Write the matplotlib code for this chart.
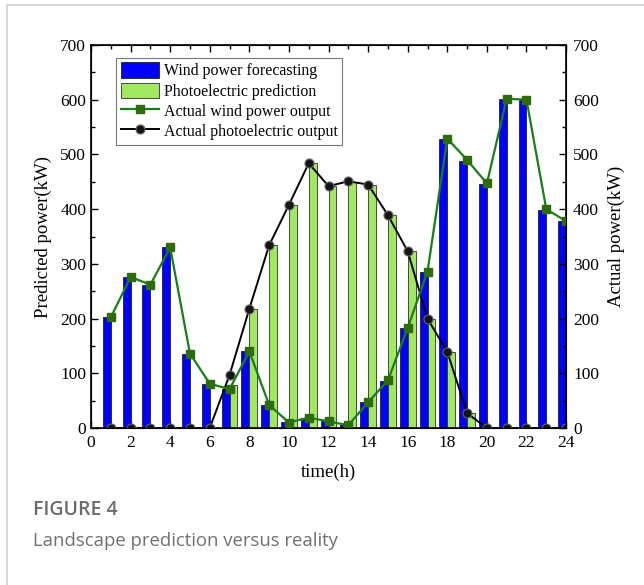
import numpy as np
import matplotlib.pyplot as plt
from matplotlib.lines import Line2D
from matplotlib.ticker import MultipleLocator

plt.rcParams['font.family'] = ['Liberation Serif', 'DejaVu Serif']

hours = np.arange(1, 25)
wind_forecast = [202, 276, 262, 330, 136, 81, 71, 140, 42, 11, 19, 13,
                 6, 47, 85, 183, 285, 529, 488, 446, 602, 600, 399, 378]
wind_actual = [202, 276, 262, 330, 136, 81, 71, 140, 42, 10, 19, 12,
               5, 47, 87, 183, 286, 529, 490, 447, 602, 600, 400, 378]
pv_forecast = [0, 0, 0, 0, 0, 0, 78, 218, 334, 408, 484, 442,
               450, 444, 389, 323, 200, 139, 27, 0, 0, 0, 0, 0]
pv_actual = [0, 0, 0, 0, 0, 0, 97, 218, 334, 408, 484, 442,
             451, 445, 389, 323, 200, 139, 27, 0, 0, 0, 0, 0]

fig = plt.figure(figsize=(6.44, 5.85), dpi=100)
ax = fig.add_axes([0.1413, 0.2684, 0.7377, 0.6546])

w = 0.4
b1 = ax.bar(hours, wind_forecast, width=-w, align='edge', color='#0000ff',
            edgecolor='#202020', linewidth=0.6, label='Wind power forecasting', zorder=2)
b2 = ax.bar(hours, pv_forecast, width=w, align='edge', color='#a0e860',
            edgecolor='#303030', linewidth=0.6, label='Photoelectric prediction', zorder=2)
l1, = ax.plot(hours, wind_actual, color='#168016', lw=1.6, marker='s', ms=6,
              mfc='#2e6b0a', mec='#2e6b0a', label='Actual wind power output', zorder=4)
l2, = ax.plot(hours, pv_actual, color='black', lw=1.4, marker='o', ms=6.5,
              mfc='#151515', mec='#666666', mew=0.8, label='Actual photoelectric output', zorder=3)

ax.set_xlim(0, 24)
ax.set_ylim(0, 700)
ax.xaxis.set_major_locator(MultipleLocator(2))
ax.xaxis.set_minor_locator(MultipleLocator(1))
ax.yaxis.set_major_locator(MultipleLocator(100))
ax.yaxis.set_minor_locator(MultipleLocator(50))
ax.tick_params(which='both', direction='in', top=True, labelsize=12.5)
ax.tick_params(which='major', length=5, width=1)
ax.tick_params(which='minor', length=3, width=1)
ax.tick_params(axis='x', pad=5)
for s in ax.spines.values():
    s.set_linewidth(1.2)
ax.set_xlabel('time(h)', fontsize=13.5, labelpad=9)
ax.set_ylabel('Predicted power(kW)', fontsize=13.5, labelpad=6)

ax2 = ax.twinx()
ax2.set_ylim(0, 700)
ax2.yaxis.set_major_locator(MultipleLocator(100))
ax2.yaxis.set_minor_locator(MultipleLocator(50))
ax2.tick_params(which='both', direction='in', labelsize=12.5, pad=5)
ax2.tick_params(which='major', length=5, width=1)
ax2.tick_params(which='minor', length=3, width=1)
ax2.set_ylabel('Actual power(kW)', fontsize=13.5, labelpad=6)

leg = ax.legend(handles=[b1, b2, l1, l2], loc='upper left',
                bbox_to_anchor=(0.053, 0.967), fontsize=11.4,
                frameon=True, fancybox=False, edgecolor='#555555',
                handlelength=2.4, handleheight=1.1, handletextpad=0.3,
                borderpad=0.3, labelspacing=0.2, borderaxespad=0)
leg.get_frame().set_linewidth(0.8)

# outer frame and caption
fig.add_artist(Line2D([7/644, 7/644], [0, 1 - 5/585], color='#cfcfcf', lw=1.2))
fig.add_artist(Line2D([7/644, 1], [1 - 5/585, 1 - 5/585], color='#cfcfcf', lw=1.2))
fig.text(33/644, 1 - 510/585, 'FIGURE 4', fontsize=14, color='#6a6a6a',
         fontweight='semibold', family=['Open Sans', 'DejaVu Sans'], va='center')
fig.text(33/644, 1 - 541/585, 'Landscape prediction versus reality', fontsize=13.3,
         color='#707070', family=['Open Sans', 'DejaVu Sans'], va='center')

fig.savefig('out.png', dpi=100)
